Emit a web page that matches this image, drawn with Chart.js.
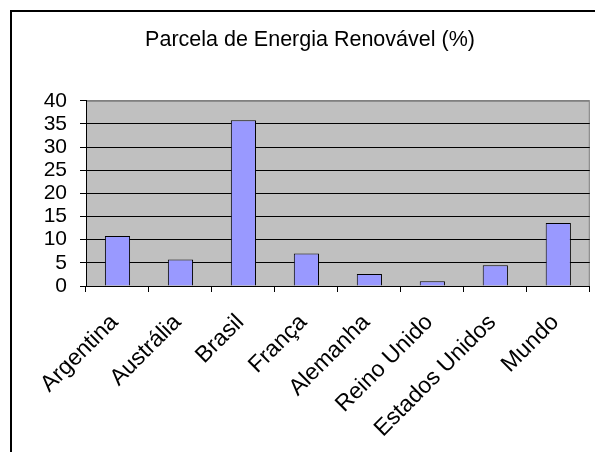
<!DOCTYPE html>
<html>
<head>
    <title>Parcela de Energia Renovável</title>
    <meta charset="utf-8">
    <style>
        html, body { margin: 0; padding: 0; background: #fff; overflow: hidden; }
        .chart-box { position: relative; width: 595px; height: 452px; }
    </style>
</head>
<body>
    <div class="chart-box">
        <canvas id="chart"></canvas>
    </div>

    <script src="https://cdn.jsdelivr.net/npm/chart.js"></script>
    <script>
        // Dados
        var paises = ['Argentina', 'Austrália', 'Brasil', 'França', 'Alemanha', 'Reino Unido', 'Estados Unidos', 'Mundo'];
        var parcela = [10.8, 5.7, 35.8, 7.0, 2.6, 1.0, 4.5, 13.6];
        var eixoY = { min: 0, max: 40, passo: 5 };
        var titulo = 'Parcela de Energia Renovável (%)';

        var fonte = '"Liberation Sans", Arial, sans-serif';

        // fundo cinza da área de plotagem + moldura externa
        var moldura = {
            id: 'moldura',
            beforeDraw: function(chart) {
                var ctx = chart.ctx, a = chart.chartArea;
                ctx.save();
                ctx.fillStyle = '#fff';
                ctx.fillRect(0, 0, chart.width, chart.height);
                ctx.strokeStyle = '#000';
                ctx.lineWidth = 2;
                ctx.beginPath();
                ctx.moveTo(11, chart.height + 5);
                ctx.lineTo(11, 11);
                ctx.lineTo(chart.width + 5, 11);
                ctx.stroke();
                ctx.fillStyle = '#c0c0c0';
                ctx.fillRect(a.left, a.top, a.right - a.left, a.bottom - a.top);
                ctx.strokeStyle = '#808080';
                ctx.lineWidth = 1;
                ctx.strokeRect(a.left + 0.5, a.top + 0.5, a.right - a.left - 1, a.bottom - a.top);
                ctx.restore();
            }
        };

        var ctx = document.getElementById('chart').getContext('2d');
        var grafico = new Chart(ctx, {
            type: 'bar',
            data: {
                labels: paises,
                datasets: [{
                    label: titulo,
                    data: parcela,
                    backgroundColor: '#9999ff',
                    borderColor: '#000',
                    borderWidth: 1,
                    barPercentage: 0.4,
                    categoryPercentage: 1
                }]
            },
            options: {
                responsive: true,
                maintainAspectRatio: false,
                animation: false,
                layout: { padding: { left: 28, right: 3, top: 0, bottom: 0 } },
                plugins: {
                    legend: { display: false },
                    tooltip: { enabled: false },
                    title: {
                        display: true,
                        text: titulo,
                        color: '#000',
                        font: { family: fonte, size: 21.5, weight: 'normal' },
                        padding: { top: 27, bottom: 48 }
                    }
                },
                scales: {
                    x: {
                        afterFit: function(s) { s.height = 166; },
                        grid: { drawOnChartArea: false, color: '#000', tickLength: 6 },
                        border: { color: '#000', width: 1 },
                        ticks: {
                            color: '#000',
                            font: { family: fonte, size: 23 },
                            minRotation: 45,
                            maxRotation: 45,
                            autoSkip: false,
                            labelOffset: -3,
                            padding: 17
                        }
                    },
                    y: {
                        min: eixoY.min,
                        max: eixoY.max,
                        afterFit: function(s) { s.width = 58; },
                        grid: {
                            color: function(c) { return c.tick && c.tick.value === eixoY.max ? '#808080' : '#000'; },
                            tickColor: '#000',
                            tickLength: 6
                        },
                        border: { color: '#000', width: 1 },
                        ticks: {
                            stepSize: eixoY.passo,
                            autoSkip: false,
                            color: '#000',
                            font: { family: fonte, size: 21 },
                            padding: 13
                        }
                    }
                }
            },
            plugins: [moldura]
        });
    </script>
</body>
</html>
